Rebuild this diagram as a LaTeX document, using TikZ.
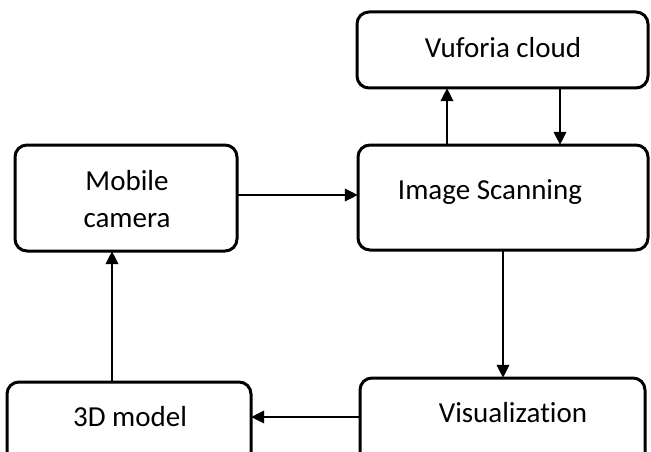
\documentclass[tikz,border=0pt]{standalone}
\usepackage{fontspec}
\setmainfont[Ligatures=NoCommon]{Carlito}
\usetikzlibrary{arrows.meta}
\begin{document}
\begin{tikzpicture}[x=1pt,y=-1pt,
  box/.style={draw=black, line width=3pt, rounded corners=12pt, fill=white},
  lbl/.style={font=\fontsize{29}{37}\selectfont, align=center, inner sep=0pt},
  arr/.style={line width=2pt, -{Triangle[length=13pt,width=12.5pt]}}]
\useasboundingbox (0,0) rectangle (651,452);
\clip (0,0) rectangle (651,452);
% boxes
\draw[box] (357,12) rectangle (648,88);
\node[inner sep=0pt, minimum width=291pt, minimum height=76pt] (vuf) at (502.5,50) {};
\draw[box] (358,145) rectangle (648,250);
\node[inner sep=0pt, minimum width=290pt, minimum height=105pt] (isc) at (503,197.5) {};
\draw[box] (15,145) rectangle (237,251);
\node[inner sep=0pt, minimum width=222pt, minimum height=106pt] (mob) at (126,198) {};
\draw[box] (7,382) rectangle (251,480);
\node[inner sep=0pt, minimum width=244pt, minimum height=98pt] (mod) at (129,431) {};
\draw[box] (360,378) rectangle (645,480);
\node[inner sep=0pt, minimum width=285pt, minimum height=102pt] (vis) at (502.5,429) {};
% labels
\node[lbl] (tvuf) at (503,48) {Vuforia cloud};
\node[lbl] (tisc) at (490,192) {Image Scanning};
\node[lbl] (tmob) at (127,199) {Mobile\\camera};
\node[lbl] (tmod) at (130,417) {3D model};
\node[lbl] (tvis) at (513,413) {Visualization};
% helper coordinates
\coordinate (c1) at (447,0);
\coordinate (c2) at (560,0);
\coordinate (c3) at (503,0);
\coordinate (c4) at (0,195);
\coordinate (c5) at (0,417);
\coordinate (c6) at (112,0);
% connectors
\draw[arr] (isc.north -| c1) -- (vuf.south -| c1);
\draw[arr] (vuf.south -| c2) -- (isc.north -| c2);
\draw[arr] (mob.east |- c4) -- (isc.west |- c4);
\draw[arr] (isc.south -| c3) -- (vis.north -| c3);
\draw[arr] (vis.west |- c5) -- (mod.east |- c5);
\draw[arr] (mod.north -| c6) -- (mob.south -| c6);
\end{tikzpicture}
\end{document}
